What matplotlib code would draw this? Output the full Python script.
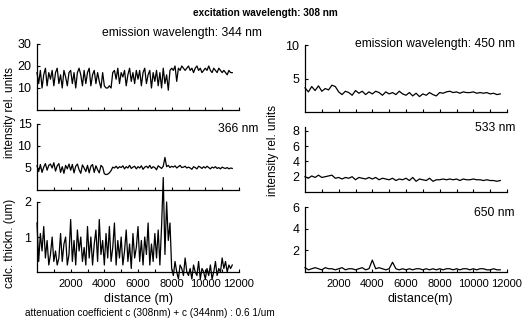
import matplotlib
matplotlib.use("Agg")
import matplotlib.pyplot as plt
import numpy as np

plt.rcParams['font.family'] = ['Liberation Sans', 'DejaVu Sans']

# distance grids (m)
dist_left = np.arange(0, 11700, 100)
dist_right = np.arange(0, 11800, 200)

# emission 344 nm (rel. units)
em344 = [17, 12, 18, 10, 16, 19, 11, 17, 14, 18,
         11, 17, 19, 12, 16, 10, 18, 15, 11, 17,
         18, 12, 17, 10, 17, 19, 16, 11, 18, 12,
         17, 19, 11, 16, 18, 12, 17, 13, 10, 17,
         11, 10, 10, 11, 10, 17, 18, 14, 19, 12,
         17, 15, 18, 11, 16, 19, 13, 17, 12, 18,
         14, 18, 11, 17, 19, 12, 16, 18, 10, 17,
         13, 18, 11, 17, 10, 19, 12, 16, 9, 18,
         19, 18, 20, 13, 19, 18, 20, 19, 18, 19,
         20, 18, 19, 17, 19, 20, 18, 19, 17, 18,
         19, 18, 20, 18, 17, 19, 18, 17, 19, 18,
         17, 18, 17, 16, 18, 17, 17]

# emission 366 nm
em366 = [5.5, 4.2, 5.8, 4.0, 5.2, 6.0, 4.5, 5.6, 5.9, 5.0,
         6.2, 4.3, 5.5, 6.0, 4.0, 5.3, 3.8, 5.6, 4.8, 5.9,
         4.5, 5.8, 3.9, 5.4, 5.9, 4.6, 3.8, 5.7, 5.0, 4.2,
         5.6, 3.9, 5.4, 5.8, 4.0, 5.5, 4.6, 3.9, 5.6, 5.2,
         3.7, 3.5, 3.6, 3.9, 4.4, 5.2, 5.0, 5.4, 4.9, 5.3,
         5.1, 5.5, 4.8, 5.3, 5.0, 5.6, 4.9, 5.2, 5.4, 4.8,
         5.3, 5.0, 5.5, 4.7, 5.2, 5.4, 5.0, 5.6, 4.9, 5.3,
         5.1, 4.6, 5.5, 5.2, 4.9, 5.4, 7.4, 5.3, 5.6, 5.1,
         5.4, 5.2, 5.5, 5.0, 5.3, 5.6, 5.1, 5.2, 5.4, 5.0,
         5.2, 5.0, 4.7, 5.3, 5.1, 4.8, 5.4, 5.2, 4.9, 5.3,
         5.0, 5.4, 5.1, 4.8, 5.2, 5.0, 5.3, 4.9, 5.1, 4.8,
         5.2, 5.0, 4.9, 5.1, 4.8, 5.0, 4.9]

# calculated thickness (um)
thickn = [1.4, 0.3, 1.1, 0.6, 1.3, 0.4, 0.9, 0.2, 0.5, 1.0,
          0.3, 0.6, 0.2, 0.4, 1.1, 0.3, 0.8, 1.0, 0.2, 0.5,
          1.5, 0.3, 0.9, 0.2, 1.2, 0.6, 1.0, 0.3, 0.7, 0.2,
          1.3, 0.4, 1.0, 0.2, 0.8, 1.2, 0.3, 1.5, 0.5, 0.9,
          0.2, 1.1, 0.4, 1.3, 0.3, 0.7, 1.4, 0.2, 0.9, 0.4,
          1.0, 0.2, 0.6, 1.2, 0.3, 0.8, 0.1, 1.1, 0.4, 0.7,
          1.3, 0.3, 0.9, 0.2, 1.0, 0.5, 1.4, 0.2, 0.8, 0.3,
          1.1, 0.4, 1.2, 0.2, 1.3, 2.7, 0.5, 2.0, 0.9, 1.4,
          0.1, -0.1, 0.3, 0.0, -0.2, 0.2, 0.1, -0.1, 0.4, 0.0,
          -0.1, 0.1, -0.2, 0.2, 0.0, -0.1, 0.3, -0.2, 0.1, 0.0,
          -0.2, 0.1, -0.1, 0.2, -0.2, 0.0, 0.3, -0.1, 0.1, 0.0,
          0.4, 0.1, 0.3, 0.0, 0.2, 0.1, 0.2]

# emission 450 nm
em450 = [3.6, 3.0, 3.8, 3.2, 3.9, 3.1, 3.5, 3.3, 4.0, 3.8,
         3.0, 2.6, 3.1, 2.9, 2.5, 3.2, 2.8, 3.1, 2.6, 3.0,
         2.7, 3.1, 2.9, 2.5, 3.0, 2.7, 2.9, 2.6, 3.1, 2.7,
         2.5, 2.9, 2.4, 2.8, 2.3, 2.7, 2.5, 2.9, 2.6, 2.4,
         2.9, 2.8, 3.0, 3.1, 2.9, 3.0, 2.8, 3.0, 2.9, 2.9,
         3.0, 2.8, 2.9, 2.8, 2.9, 2.7, 2.8, 2.6, 2.7]

# emission 533 nm
em533 = [2.0, 1.8, 2.1, 1.9, 2.2, 1.9, 2.0, 2.1, 2.2, 1.8,
         1.9, 1.7, 1.9, 1.8, 2.0, 1.6, 1.9, 1.8, 1.7, 1.9,
         1.7, 1.9, 1.6, 1.8, 1.7, 1.6, 1.8, 1.5, 1.7, 1.6,
         1.8, 1.5, 1.9, 1.4, 1.7, 1.6, 1.5, 1.8, 1.4, 1.6,
         1.6, 1.7, 1.6, 1.7, 1.6, 1.7, 1.5, 1.7, 1.6, 1.6,
         1.7, 1.6, 1.6, 1.5, 1.6, 1.5, 1.5, 1.4, 1.5]

# emission 650 nm
em650 = [0.4, 0.2, 0.3, 0.4, 0.3, 0.2, 0.4, 0.3, 0.3, 0.2,
         0.3, 0.4, 0.2, 0.3, 0.3, 0.2, 0.3, 0.4, 0.2, 0.3,
         1.1, 0.3, 0.4, 0.3, 0.2, 0.3, 0.9, 0.3, 0.2, 0.3,
         0.2, 0.3, 0.2, 0.3, 0.3, 0.2, 0.3, 0.2, 0.3, 0.2,
         0.3, 0.2, 0.3, 0.3, 0.2, 0.3, 0.2, 0.3, 0.3, 0.2,
         0.3, 0.2, 0.3, 0.3, 0.2, 0.2, 0.3, 0.2, 0.2]

W, H = 525, 321
fig = plt.figure(figsize=(W / 100, H / 100), dpi=100)


def px_axes(x0, y_top, x1, y_bot):
    return fig.add_axes([x0 / W, 1 - y_bot / H, (x1 - x0) / W, (y_bot - y_top) / H])


def style(ax, ylim, yticks, show_x):
    ax.set_xlim(0, 12000)
    ax.set_ylim(*ylim)
    for s in ['top', 'right']:
        ax.spines[s].set_visible(False)
    for s in ['left', 'bottom']:
        ax.spines[s].set_linewidth(0.9)
    ax.set_xticks(np.arange(1000, 12001, 1000))
    if show_x:
        ax.set_xticklabels([str(v) if v % 2000 == 0 else '' for v in range(1000, 12001, 1000)])
    else:
        ax.set_xticklabels([])
    ax.set_yticks(yticks)
    ax.tick_params(direction='in', length=2.5, width=0.8, labelsize=9, pad=4)
    ax.tick_params(axis='x', labelsize=8, pad=5)


def ftext(x, y, s, **kw):
    fig.text(x / W, 1 - y / H, s, **kw)


panels = [
    (px_axes(37, 44, 239, 110), dist_left, em344, (0, 30), [10, 20, 30], False),
    (px_axes(37, 124, 239, 190), dist_left, em366, (0, 15), [5, 10, 15], False),
    (px_axes(37, 202, 239, 272), dist_left, thickn, (0, 2), [1, 2], True),
    (px_axes(305, 45, 507, 112), dist_right, em450, (0, 10), [5, 10], False),
    (px_axes(305, 127, 507, 192), dist_right, em533, (0, 8.5), [2, 4, 6, 8], False),
    (px_axes(305, 207, 507, 272), dist_right, em650, (0, 6), [2, 4, 6], True),
]

for ax, x, y, ylim, yt, show_x in panels:
    ax.plot(x, y, color='black', lw=0.9, clip_on=False)
    style(ax, ylim, yt, show_x)

ftext(265, 13, 'excitation wavelength: 308 nm', fontsize=7.2, fontweight='bold', ha='center', va='center')
ftext(182, 33, 'emission wavelength: 344 nm', fontsize=8.7, ha='center', va='center')
ftext(258, 129, '366 nm', fontsize=8.7, ha='right', va='center')
ftext(515, 44, 'emission wavelength: 450 nm', fontsize=8.7, ha='right', va='center')
ftext(515, 128, '533 nm', fontsize=8.7, ha='right', va='center')
ftext(515, 213, '650 nm', fontsize=8.7, ha='right', va='center')

ftext(10, 112, 'intensity rel. units', fontsize=8.5, rotation=90, ha='center', va='center')
ftext(10, 243, 'calc. thickn. (um)', fontsize=8.5, rotation=90, ha='center', va='center')
ftext(273, 150, 'intensity rel. units', fontsize=8.5, rotation=90, ha='center', va='center')

ftext(138, 299, 'distance (m)', fontsize=9, ha='center', va='center')
ftext(420, 299, 'distance(m)', fontsize=9, ha='center', va='center')
ftext(150, 313, 'attenuation coefficient c (308nm) + c (344nm) : 0.6 1/um',
      fontsize=7.2, ha='center', va='center')

fig.savefig('out.png', dpi=100)
